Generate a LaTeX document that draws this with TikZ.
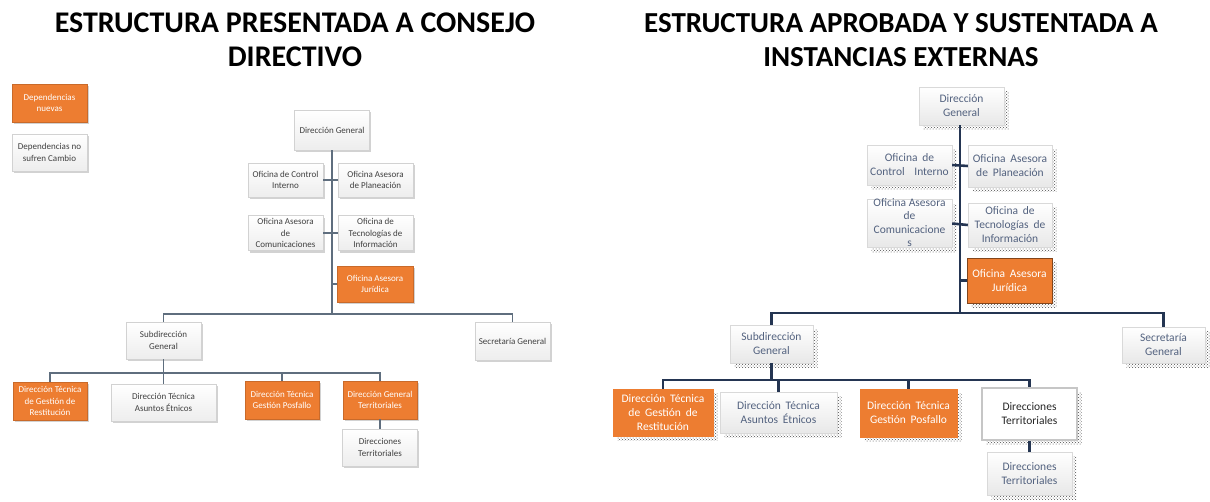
\documentclass[tikz,border=0pt]{standalone}
\usepackage{fontspec}
\setmainfont{Carlito}
\usetikzlibrary{shadows,patterns}
\definecolor{orng}{HTML}{ED7D31}
\definecolor{lline}{HTML}{5F6E7E}
\definecolor{rline}{HTML}{243552}
\definecolor{ltxt}{HTML}{404040}
\definecolor{rtxt}{HTML}{53627F}
\newcommand\myrfont{\fontsize{11.5}{14}\selectfont\spaceskip=0.42em plus 0.2em\relax}
\tikzset{
 lbox/.style={draw=gray!35, line width=0.4pt, top color=white, bottom color=gray!14, text=ltxt, align=center,
   font=\fontsize{9}{11.5}\selectfont, inner sep=1pt,
   drop shadow={shadow xshift=1.5pt, shadow yshift=-2pt, opacity=0.35, fill=gray}},
 lorg/.style={lbox, top color=orng, bottom color=orng, draw=orng!85!black, text=white},
 rbox/.style={draw=gray!30, line width=0.4pt, top color=white, bottom color=gray!18, text=rtxt, align=center,
   font=\myrfont, inner sep=1pt,
   general shadow={shadow xshift=4.5pt, shadow yshift=-4.5pt, pattern=crosshatch dots, pattern color=black!70}},
 rorg/.style={rbox, top color=orng, bottom color=orng, draw=orng, text=white},
 lconn/.style={draw=lline, line width=1.3pt},
 rconn/.style={draw=rline, line width=2.6pt},
 ttl/.style={font=\fontsize{30}{34}\selectfont\bfseries, align=center, text=black}
}
\begin{document}
\begin{tikzpicture}[x=1pt,y=-1pt]
\fill[white] (0,0) rectangle (1210,501);
\useasboundingbox (0,0) rectangle (1210,501);

% titles
\node[ttl] (t1) at (295,40) {ESTRUCTURA PRESENTADA A CONSEJO\\DIRECTIVO};
\node[ttl, font=\fontsize{29}{34}\selectfont\bfseries] (t2) at (901,40) {ESTRUCTURA APROBADA Y SUSTENTADA A\\INSTANCIAS EXTERNAS};

% legend
\node[lorg, minimum width=75pt, minimum height=38pt] (leg1) at (49.5,103) {Dependencias\\nuevas};
\node[lbox, minimum width=75pt, minimum height=37pt] (leg2) at (49.5,152.5) {Dependencias no\\sufren Cambio};

% ---------- left chart ----------
\coordinate (LJ) at (332,314);
\coordinate (LK) at (163.5,373);
\node[lbox, minimum width=75pt, minimum height=40pt] (LDG) at (332,130) {Dirección General};
\node[lbox, minimum width=75pt, minimum height=34pt] (LOCI) at (285.5,180) {Oficina de Control\\Interno};
\node[lbox, minimum width=75pt, minimum height=34pt] (LOAP) at (375.5,180) {Oficina Asesora\\de Planeación};
\node[lbox, minimum width=75pt, minimum height=35pt] (LOAC) at (285.5,233) {Oficina Asesora\\de\\Comunicaciones};
\node[lbox, minimum width=75pt, minimum height=35pt] (LOTI) at (375.5,233) {Oficina de\\Tecnologías de\\Información};
\node[lorg, minimum width=76pt, minimum height=36pt] (LOAJ) at (375,284) {Oficina Asesora\\Jurídica};
\node[lbox, minimum width=75pt, minimum height=37pt] (LSG) at (163.5,340.5) {Subdirección\\General};
\node[lbox, minimum width=75pt, minimum height=38pt] (LSec) at (512.5,341) {Secretaría General};
\node[lorg, minimum width=74pt, minimum height=38pt] (LR) at (50,401) {Dirección Técnica\\de Gestión de\\Restitución};
\node[lbox, minimum width=105pt, minimum height=37pt] (LAE) at (163.5,402.5) {Dirección Técnica\\Asuntos Étnicos};
\node[lorg, minimum width=74pt, minimum height=38pt] (LPF) at (282,400) {Dirección Técnica\\Gestión Posfallo};
\node[lorg, minimum width=74pt, minimum height=38pt] (LDGT) at (380,400) {Dirección General\\Territoriales};
\node[lbox, minimum width=75pt, minimum height=37pt] (LDT) at (380,447.5) {Direcciones\\Territoriales};

\draw[lconn] (LDG.south) -- (LJ);
\draw[lconn] (LOCI.east) -- (LOAP.west);
\draw[lconn] (LOAC.east) -- (LOTI.west);
\draw[lconn] (LOAJ.west) -- (LOAJ.west -| LJ);
\draw[lconn] (LSG.north) |- (LJ) -| (LSec.north);
\draw[lconn] (LSG.south) -- (LK);
\draw[lconn] (LR.north) |- (LK) -| (LDGT.north);
\draw[lconn] (LAE.north) -- (LK);
\draw[lconn] (LPF.north) -- (LPF.north |- LK);
\draw[lconn] (LDGT.south) -- (LDT.north);

% ---------- right chart ----------
\coordinate (RJ) at (960,313);
\coordinate (RK) at (771.5,380);
\node[rbox, minimum width=85pt, minimum height=38pt] (RDG) at (961.5,106) {Dirección\\General};
\node[rbox, minimum width=85pt, minimum height=40pt] (ROCI) at (909.5,165) {Oficina de\\Control\ \ Interno};
\node[rbox, minimum width=84pt, minimum height=42pt] (ROAP) at (1010,166) {Oficina Asesora\\de Planeación};
\node[rbox, minimum width=85pt, font=\fontsize{11.5}{13.5}\selectfont, text height=46pt, text depth=0pt] (ROAC) at (909.5,223.5) {Oficina Asesora\\de\\Comunicacione\\s};
\node[rbox, minimum width=84pt, minimum height=44pt] (ROTI) at (1010,225) {Oficina de\\Tecnologías de\\Información};
\node[rorg, minimum width=85pt, minimum height=45pt, draw=orng!55!black, line width=1pt] (ROAJ) at (1009.5,280.5) {Oficina Asesora\\Jurídica};
\node[rbox, minimum width=83pt, minimum height=38pt] (RSG) at (771.5,344) {Subdirección\\General};
\node[rbox, minimum width=83pt, minimum height=36pt] (RSec) at (1163.5,345) {Secretaría\\General};
\node[rorg, minimum width=100pt, minimum height=47pt] (RR) at (663,412.5) {Dirección Técnica\\de Gestión de\\Restitución};
\node[rbox, minimum width=117pt, minimum height=41pt] (RAE) at (778.5,412.5) {Dirección Técnica\\Asuntos Étnicos};
\node[rorg, minimum width=97pt, minimum height=48pt] (RPF) at (908.5,413) {Dirección Técnica\\Gestión Posfallo};
\node[rbox, minimum width=95pt, minimum height=52pt, draw=gray!45, line width=2pt, top color=white, bottom color=white, text=black!85] (RDT1) at (1029.5,414) {Direcciones\\Territoriales};
\node[rbox, minimum width=85pt, minimum height=43pt] (RDT2) at (1029.5,473.5) {Direcciones\\Territoriales};

\draw[rconn] (RDG.south -| RJ) -- (RJ);
\draw[rconn] (ROCI.east) -- (ROAP.west);
\draw[rconn] (ROAC.east) -- (ROTI.west);
\draw[rconn] (ROAJ.west) -- (ROAJ.west -| RJ);
\draw[rconn] (RSG.north) |- (RJ) -| (RSec.north);
\draw[rconn] (RSG.south) -- (RK);
\draw[rconn] (RR.north) |- (RK) -| (RDT1.north);
\draw[rconn] (RAE.north) -- (RAE.north |- RK);
\draw[rconn] (RPF.north) -- (RPF.north |- RK);
\draw[rconn] (RDT1.south) -- (RDT2.north);
\end{tikzpicture}
\end{document}
